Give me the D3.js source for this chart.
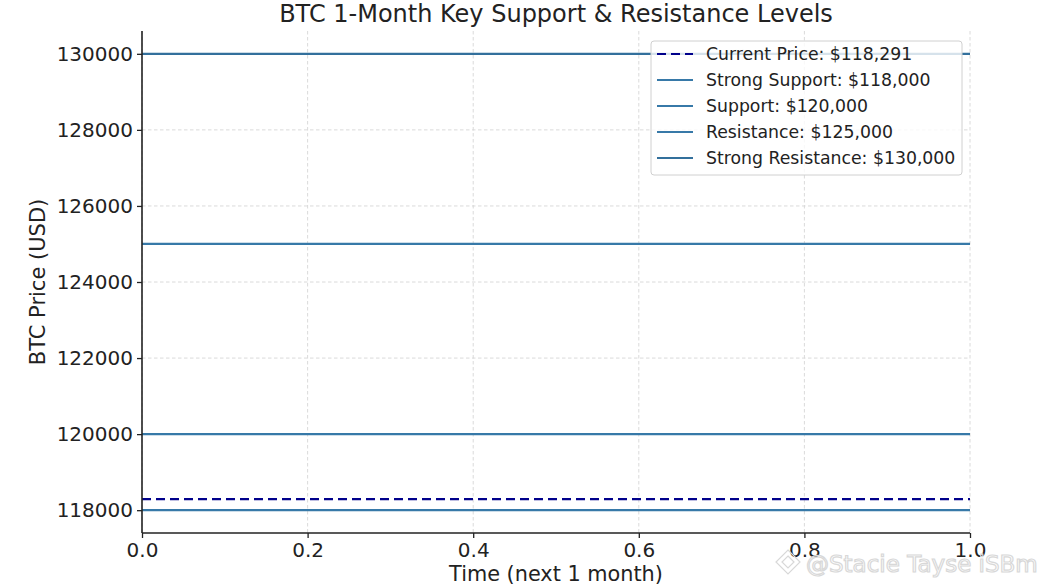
<!DOCTYPE html>
<html>
<head>
    <meta charset="utf-8">
    <style>
        body { margin: 0; background: #fff; }
        svg { font-family: "DejaVu Sans", sans-serif; }
    </style>
</head>
<body>
<svg width="1047" height="588"></svg>

<script src="https://d3js.org/d3.v7.min.js"></script>
<script>

    // levels drawn as horizontal lines across the month
    let levelNames = ["Current Price", "Strong Support", "Support", "Resistance", "Strong Resistance"];
    let levelValues = [118291, 118000, 120000, 125000, 130000];
    let levelDashed = [true, false, false, false, false];
    let levelColors = ["#00008b", "#3779a8", "#3779a8", "#3779a8", "#33709c"];

    let yTicks = [118000, 120000, 122000, 124000, 126000, 128000, 130000];
    let xTicks = [0.0, 0.2, 0.4, 0.6, 0.8, 1.0];

    let svg = d3.select("svg");
    let plotLeft = 142, plotRight = 970, plotTop = 31, plotBottom = 533;

    // matplotlib-style 5% padding around the data range
    let lo = d3.min(levelValues), hi = d3.max(levelValues);
    let pad = (hi - lo) * 0.05;

    let x = d3.scaleLinear().domain([0, 1]).range([plotLeft, plotRight]);
    let y = d3.scaleLinear().domain([lo - pad, hi + pad]).range([plotBottom, plotTop]);

    // grid
    svg.append("g")
        .selectAll("line")
        .data(xTicks)
        .join("line")
        .attr("x1", d => x(d)).attr("x2", d => x(d))
        .attr("y1", plotTop).attr("y2", plotBottom)
        .style("stroke", "#d6d6d6")
        .style("stroke-width", 0.9)
        .style("stroke-dasharray", "3.5,2.5");

    svg.append("g")
        .selectAll("line")
        .data(yTicks)
        .join("line")
        .attr("x1", plotLeft).attr("x2", plotRight)
        .attr("y1", d => y(d)).attr("y2", d => y(d))
        .style("stroke", "#d6d6d6")
        .style("stroke-width", 0.9)
        .style("stroke-dasharray", "3.5,2.5");

    // level lines
    let levels = levelNames.map((n, i) => ({ name: n, value: levelValues[i], dashed: levelDashed[i], color: levelColors[i] }));

    svg.append("g")
        .selectAll("line")
        .data(levels.slice().reverse())
        .join("line")
        .attr("x1", x(0)).attr("x2", x(1))
        .attr("y1", d => y(d.value)).attr("y2", d => y(d.value))
        .style("stroke", d => d.color)
        .style("stroke-width", 2.2)
        .style("stroke-dasharray", d => d.dashed ? "9,5" : null);

    // axes
    let yAxis = svg.append("g")
        .attr("transform", "translate(" + plotLeft + ",0)")
        .call(d3.axisLeft(y).tickValues(yTicks).tickFormat(d3.format("d")).tickSize(5).tickPadding(4));

    let xAxis = svg.append("g")
        .attr("transform", "translate(0," + plotBottom + ")")
        .call(d3.axisBottom(x).tickValues(xTicks).tickFormat(d3.format(".1f")).tickSize(5).tickPadding(5));

    [xAxis, yAxis].forEach(a => {
        a.select(".domain").attr("d", a === yAxis
            ? "M0," + plotTop + "V" + plotBottom
            : "M" + plotLeft + ",0H" + plotRight)
            .style("stroke", "#222").style("stroke-width", 1.6);
        a.selectAll(".tick line").style("stroke", "#222").style("stroke-width", 1.3);
        a.selectAll(".tick text")
            .style("font-family", "DejaVu Sans")
            .style("font-size", "20px")
            .style("fill", "#222");
    });

    // titles
    svg.append("text")
        .attr("x", (plotLeft + plotRight) / 2).attr("y", 22)
        .attr("text-anchor", "middle")
        .style("font-size", "24px")
        .style("fill", "#222")
        .text("BTC 1-Month Key Support & Resistance Levels");

    svg.append("text")
        .attr("x", (plotLeft + plotRight) / 2).attr("y", 581)
        .attr("text-anchor", "middle")
        .style("font-size", "20.8px")
        .style("fill", "#222")
        .text("Time (next 1 month)");

    svg.append("text")
        .attr("transform", "translate(45," + ((plotTop + plotBottom) / 2) + ") rotate(-90)")
        .attr("text-anchor", "middle")
        .style("font-size", "21px")
        .style("fill", "#222")
        .text("BTC Price (USD)");

    // legend
    let legend = svg.append("g").attr("transform", "translate(651,41)");

    legend.append("rect")
        .attr("width", 311).attr("height", 134)
        .attr("rx", 3)
        .style("fill", "white").style("fill-opacity", 0.8)
        .style("stroke", "#d0d0d0").style("stroke-width", 1);

    let rows = legend.selectAll(".row")
        .data(levels)
        .join("g")
        .attr("class", "row")
        .attr("transform", (d, i) => "translate(0," + (13 + i * 26) + ")");

    rows.append("line")
        .attr("x1", 6).attr("x2", 42)
        .style("stroke", d => d.color)
        .style("stroke-width", 2.2)
        .style("stroke-dasharray", d => d.dashed ? "9,5" : null);

    let fmt = d3.format(",");
    rows.append("text")
        .attr("x", 55).attr("y", 6)
        .style("font-size", "17.3px")
        .style("fill", "#222")
        .text(d => d.name + ": $" + fmt(d.value));

    // watermark
    let mark = svg.append("g")
        .style("fill", "none")
        .style("stroke", "#d8d8d8")
        .style("stroke-width", 1.2);

    mark.append("path")
        .attr("d", "M788,550 L800,562 L788,574 L776,562 Z M788,556 L794,562 L788,568 L782,562 Z");

    mark.append("text")
        .attr("x", 806).attr("y", 572)
        .style("font-size", "23px")
        .text("@Stacie Tayse iSBm");

</script>
</body>
</html>
